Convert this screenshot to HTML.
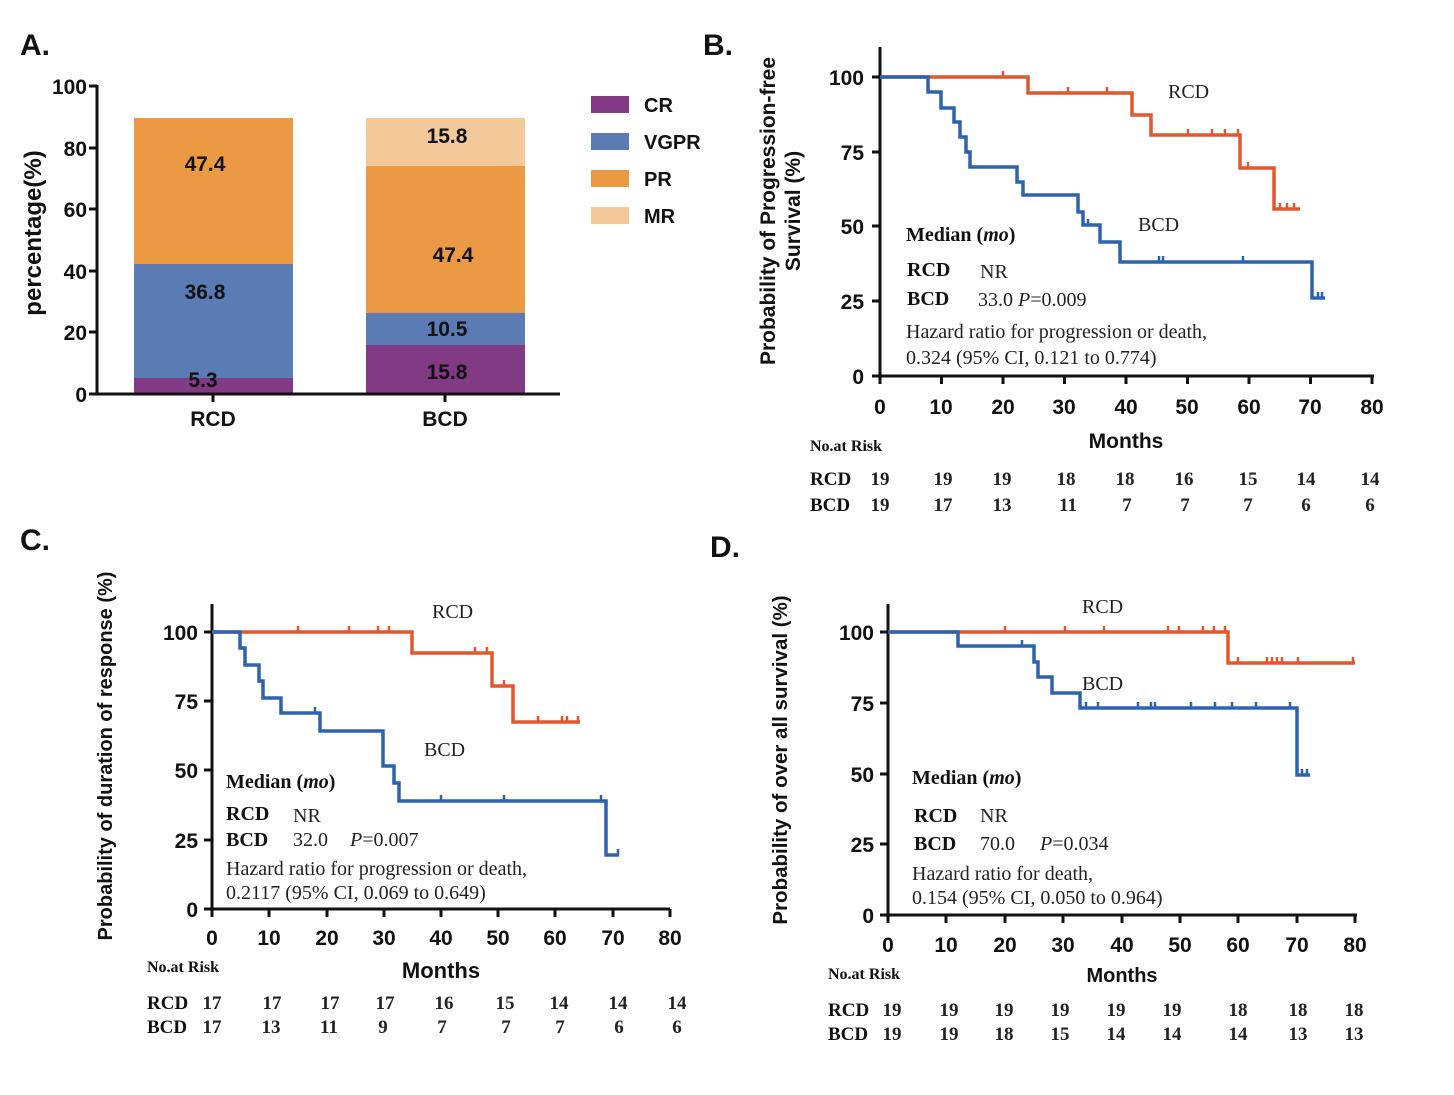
<!DOCTYPE html>
<html><head><meta charset="utf-8"><style>
html,body{margin:0;padding:0;background:#fff;}
svg{display:block}
.s{font-family:"Liberation Sans",sans-serif;font-weight:bold;fill:#111}
.r{font-family:"Liberation Serif",serif;fill:#222}
.rb{font-family:"Liberation Serif",serif;font-weight:bold;fill:#111}
</style></head><body>
<svg width="1454" height="1095" viewBox="0 0 1454 1095" xmlns="http://www.w3.org/2000/svg">
<!-- Panel A -->
<text x="20" y="55" class="s" font-size="30">A.</text>
<g>
<rect x="134" y="378" width="159" height="16" fill="#833a84"/>
<rect x="134" y="264" width="159" height="114" fill="#5b7bb4"/>
<rect x="134" y="118" width="159" height="146" fill="#ec9944"/>
<rect x="366" y="345" width="159" height="49" fill="#833a84"/>
<rect x="366" y="313" width="159" height="32" fill="#5b7bb4"/>
<rect x="366" y="166" width="159" height="147" fill="#ec9944"/>
<rect x="366" y="118" width="159" height="48" fill="#f4c99a"/>
</g>
<g stroke="#111" stroke-width="3" fill="none">
<path d="M97 85 V394 H560"/>
<path d="M89 86 H97 M89 148 H97 M89 209 H97 M89 271 H97 M89 332 H97 M89 394 H97 M213 394 V402 M445 394 V402"/>
</g>
<g class="s" font-size="21" text-anchor="end">
<text x="87" y="94">100</text><text x="87" y="156">80</text><text x="87" y="217">60</text><text x="87" y="279">40</text><text x="87" y="340">20</text><text x="87" y="402">0</text>
</g>
<text class="s" font-size="24" transform="translate(41 233) rotate(-90)" text-anchor="middle">percentage(%)</text>
<g class="s" font-size="21" text-anchor="middle">
<text x="213" y="426">RCD</text><text x="445" y="426">BCD</text>
<text x="205" y="171">47.4</text><text x="205" y="299">36.8</text><text x="203" y="387">5.3</text>
<text x="447" y="143">15.8</text><text x="453" y="262">47.4</text><text x="447" y="336">10.5</text><text x="447" y="379">15.8</text>
</g>
<rect x="591" y="96" width="38" height="17" fill="#833a84"/>
<rect x="591" y="133" width="38" height="17" fill="#5b7bb4"/>
<rect x="591" y="170" width="38" height="17" fill="#ec9944"/>
<rect x="591" y="207" width="38" height="17" fill="#f4c99a"/>
<g class="s" font-size="20">
<text x="644" y="112">CR</text><text x="644" y="149">VGPR</text><text x="644" y="186">PR</text><text x="644" y="223">MR</text>
</g>

<!-- Panel B -->
<text x="703" y="55" class="s" font-size="30">B.</text>
<g stroke="#111" stroke-width="3" fill="none">
<path d="M880 47 V376 H1374"/>
<path d="M872 77 H880 M872 152 H880 M872 226 H880 M872 301 H880 M872 376 H880"/>
<path d="M880 376v8 M941.5 376v8 M1003 376v8 M1064.5 376v8 M1126 376v8 M1187.5 376v8 M1249 376v8 M1310.5 376v8 M1372 376v8"/>
</g>
<g class="s" font-size="21" text-anchor="end">
<text x="864" y="85">100</text><text x="864" y="160">75</text><text x="864" y="234">50</text><text x="864" y="309">25</text><text x="864" y="384">0</text>
</g>
<g class="s" font-size="21" text-anchor="middle">
<text x="880" y="414">0</text><text x="941" y="414">10</text><text x="1003" y="414">20</text><text x="1064" y="414">30</text><text x="1126" y="414">40</text><text x="1187" y="414">50</text><text x="1249" y="414">60</text><text x="1310" y="414">70</text><text x="1372" y="414">80</text>
<text x="1126" y="448">Months</text>
</g>
<text class="s" font-size="21" transform="translate(775 211) rotate(-90)" text-anchor="middle">Probability of Progression-free</text>
<text class="s" font-size="21" transform="translate(800 211) rotate(-90)" text-anchor="middle">Survival (%)</text>
<path d="M880 77 H1028 V93 H1132 V115 H1151 V135 H1240 V168 H1274 V209 H1300" stroke="#e4572e" stroke-width="3.5" fill="none"/>
<path d="M1003 77v-6 M1068 93v-6 M1107 93v-6 M1188 135v-6 M1212 135v-6 M1225 135v-6 M1238 135v-6 M1248 168v-6 M1280 209v-6 M1287 209v-6 M1294 209v-6" stroke="#e4572e" stroke-width="2.5"/>
<path d="M880 77 H928 V92 H941 V108 H954 V122 H960 V137 H966 V152 H970 V167 H1017 V182 H1023 V195 H1078 V212 H1083 V225 H1100 V242 H1120 V262 H1312 V298 H1325" stroke="#2d63ae" stroke-width="3.5" fill="none"/>
<path d="M1088 225v-6 M1159 262v-6 M1163 262v-6 M1243 262v-6 M1318 298v-6 M1322 298v-6" stroke="#2d63ae" stroke-width="2.5"/>
<g class="r" font-size="20">
<text x="1168" y="98">RCD</text><text x="1138" y="231">BCD</text>
<text x="906" y="241" class="rb">Median (<tspan font-style="italic">mo</tspan>)</text>
<text x="907" y="276" class="rb">RCD</text><text x="980" y="278">NR</text>
<text x="907" y="305" class="rb">BCD</text><text x="978" y="306">33.0  <tspan font-style="italic">P</tspan>=0.009</text>
<text x="906" y="338">Hazard ratio for progression or death,</text>
<text x="906" y="364">0.324 (95% CI, 0.121 to 0.774)</text>
</g>
<g class="rb" font-size="16"><text x="810" y="451">No.at Risk</text></g>
<g class="rb" font-size="19">
<text x="810" y="485">RCD</text><text x="810" y="511">BCD</text>
</g>
<g class="r" font-size="19" font-weight="bold" text-anchor="middle">
<text x="880" y="485">19</text><text x="943" y="485">19</text><text x="1002" y="485">19</text><text x="1066" y="485">18</text><text x="1125" y="485">18</text><text x="1184" y="485">16</text><text x="1248" y="485">15</text><text x="1306" y="485">14</text><text x="1370" y="485">14</text>
<text x="880" y="511">19</text><text x="943" y="511">17</text><text x="1002" y="511">13</text><text x="1068" y="511">11</text><text x="1127" y="511">7</text><text x="1185" y="511">7</text><text x="1248" y="511">7</text><text x="1306" y="511">6</text><text x="1370" y="511">6</text>
</g>

<!-- Panel C -->
<text x="20" y="550" class="s" font-size="30">C.</text>
<g stroke="#111" stroke-width="3" fill="none">
<path d="M212 604 V909 H670"/>
<path d="M204 632 H212 M204 701 H212 M204 770 H212 M204 840 H212 M204 909 H212"/>
<path d="M212 909v8 M269 909v8 M327 909v8 M384 909v8 M441 909v8 M498 909v8 M555 909v8 M613 909v8 M670 909v8"/>
</g>
<g class="s" font-size="21" text-anchor="end">
<text x="198" y="640">100</text><text x="198" y="709">75</text><text x="198" y="778">50</text><text x="198" y="848">25</text><text x="198" y="917">0</text>
</g>
<g class="s" font-size="21" text-anchor="middle">
<text x="212" y="945">0</text><text x="269" y="945">10</text><text x="327" y="945">20</text><text x="384" y="945">30</text><text x="441" y="945">40</text><text x="498" y="945">50</text><text x="555" y="945">60</text><text x="613" y="945">70</text><text x="670" y="945">80</text>
<text x="441" y="978" font-size="22">Months</text>
</g>
<text class="s" font-size="20" transform="translate(112 756) rotate(-90)" text-anchor="middle">Probability of duration of response (%)</text>
<path d="M212 632 H412 V653 H492 V686 H513 V722 H580" stroke="#e4572e" stroke-width="3.5" fill="none"/>
<path d="M298 632v-6 M349 632v-6 M378 632v-6 M389 632v-6 M475 653v-6 M487 653v-6 M504 686v-6 M538 722v-6 M562 722v-6 M567 722v-6 M578 722v-6" stroke="#e4572e" stroke-width="2.5"/>
<path d="M212 632 H240 V648 H245 V665 H259 V681 H263 V698 H281 V713 H320 V731 H383 V766 H394 V783 H399 V801 H606 V855 H619" stroke="#2d63ae" stroke-width="3.5" fill="none"/>
<path d="M315 713v-6 M441 801v-6 M504 801v-6 M601 801v-6 M618 855v-6" stroke="#2d63ae" stroke-width="2.5"/>
<g class="r" font-size="20">
<text x="432" y="618">RCD</text><text x="424" y="756">BCD</text>
<text x="226" y="788" class="rb">Median (<tspan font-style="italic">mo</tspan>)</text>
<text x="226" y="820" class="rb">RCD</text><text x="293" y="822">NR</text>
<text x="226" y="846" class="rb">BCD</text><text x="293" y="846">32.0</text><text x="350" y="846"><tspan font-style="italic">P</tspan>=0.007</text>
<text x="226" y="875">Hazard ratio for progression or death,</text>
<text x="226" y="899">0.2117 (95% CI, 0.069 to 0.649)</text>
</g>
<g class="rb" font-size="16"><text x="147" y="972">No.at Risk</text></g>
<g class="rb" font-size="19"><text x="147" y="1009">RCD</text><text x="147" y="1033">BCD</text></g>
<g class="r" font-size="19" font-weight="bold" text-anchor="middle">
<text x="212" y="1009">17</text><text x="272" y="1009">17</text><text x="330" y="1009">17</text><text x="385" y="1009">17</text><text x="444" y="1009">16</text><text x="505" y="1009">15</text><text x="559" y="1009">14</text><text x="618" y="1009">14</text><text x="677" y="1009">14</text>
<text x="212" y="1033">17</text><text x="271" y="1033">13</text><text x="329" y="1033">11</text><text x="383" y="1033">9</text><text x="442" y="1033">7</text><text x="506" y="1033">7</text><text x="560" y="1033">7</text><text x="619" y="1033">6</text><text x="677" y="1033">6</text>
</g>

<!-- Panel D -->
<text x="710" y="557" class="s" font-size="30">D.</text>
<g stroke="#111" stroke-width="3" fill="none">
<path d="M888 604 V915 H1357"/>
<path d="M880 632 H888 M880 703 H888 M880 774 H888 M880 844 H888 M880 915 H888"/>
<path d="M888 915v8 M946 915v8 M1005 915v8 M1063 915v8 M1122 915v8 M1180 915v8 M1238 915v8 M1297 915v8 M1355 915v8"/>
</g>
<g class="s" font-size="21" text-anchor="end">
<text x="874" y="640">100</text><text x="874" y="711">75</text><text x="874" y="782">50</text><text x="874" y="852">25</text><text x="874" y="923">0</text>
</g>
<g class="s" font-size="21" text-anchor="middle">
<text x="888" y="952">0</text><text x="946" y="952">10</text><text x="1005" y="952">20</text><text x="1063" y="952">30</text><text x="1122" y="952">40</text><text x="1180" y="952">50</text><text x="1238" y="952">60</text><text x="1297" y="952">70</text><text x="1355" y="952">80</text>
<text x="1122" y="982" font-size="20">Months</text>
</g>
<text class="s" font-size="20.5" transform="translate(787 760) rotate(-90)" text-anchor="middle">Probability of over all survival (%)</text>
<path d="M888 632 H1228 V663 H1355" stroke="#e4572e" stroke-width="3.5" fill="none"/>
<path d="M1005 632v-6 M1065 632v-6 M1104 632v-6 M1168 632v-6 M1179 632v-6 M1203 632v-6 M1214 632v-6 M1225 632v-6 M1238 663v-6 M1267 663v-6 M1272 663v-6 M1277 663v-6 M1282 663v-6 M1298 663v-6 M1353 663v-6" stroke="#e4572e" stroke-width="2.5"/>
<path d="M888 632 H958 V646 H1034 V662 H1038 V677 H1052 V693 H1080 V708 H1297 V775 H1310" stroke="#2d63ae" stroke-width="3.5" fill="none"/>
<path d="M1022 646v-6 M1086 708v-6 M1098 708v-6 M1138 708v-6 M1151 708v-6 M1155 708v-6 M1191 708v-6 M1215 708v-6 M1232 708v-6 M1256 708v-6 M1290 708v-6 M1302 775v-6 M1307 775v-6" stroke="#2d63ae" stroke-width="2.5"/>
<g class="r" font-size="20">
<text x="1082" y="613">RCD</text><text x="1082" y="690">BCD</text>
<text x="912" y="784" class="rb">Median (<tspan font-style="italic">mo</tspan>)</text>
<text x="914" y="822" class="rb">RCD</text><text x="980" y="822">NR</text>
<text x="914" y="850" class="rb">BCD</text><text x="980" y="850">70.0</text><text x="1040" y="850"><tspan font-style="italic">P</tspan>=0.034</text>
<text x="912" y="880">Hazard ratio for  death,</text>
<text x="912" y="904">0.154 (95% CI, 0.050 to 0.964)</text>
</g>
<g class="rb" font-size="16"><text x="828" y="979">No.at Risk</text></g>
<g class="rb" font-size="19"><text x="828" y="1016">RCD</text><text x="828" y="1040">BCD</text></g>
<g class="r" font-size="19" font-weight="bold" text-anchor="middle">
<text x="892" y="1016">19</text><text x="949" y="1016">19</text><text x="1004" y="1016">19</text><text x="1060" y="1016">19</text><text x="1116" y="1016">19</text><text x="1172" y="1016">19</text><text x="1238" y="1016">18</text><text x="1298" y="1016">18</text><text x="1354" y="1016">18</text>
<text x="892" y="1040">19</text><text x="949" y="1040">19</text><text x="1004" y="1040">18</text><text x="1060" y="1040">15</text><text x="1116" y="1040">14</text><text x="1172" y="1040">14</text><text x="1238" y="1040">14</text><text x="1298" y="1040">13</text><text x="1354" y="1040">13</text>
</g>
</svg>
</body></html>
